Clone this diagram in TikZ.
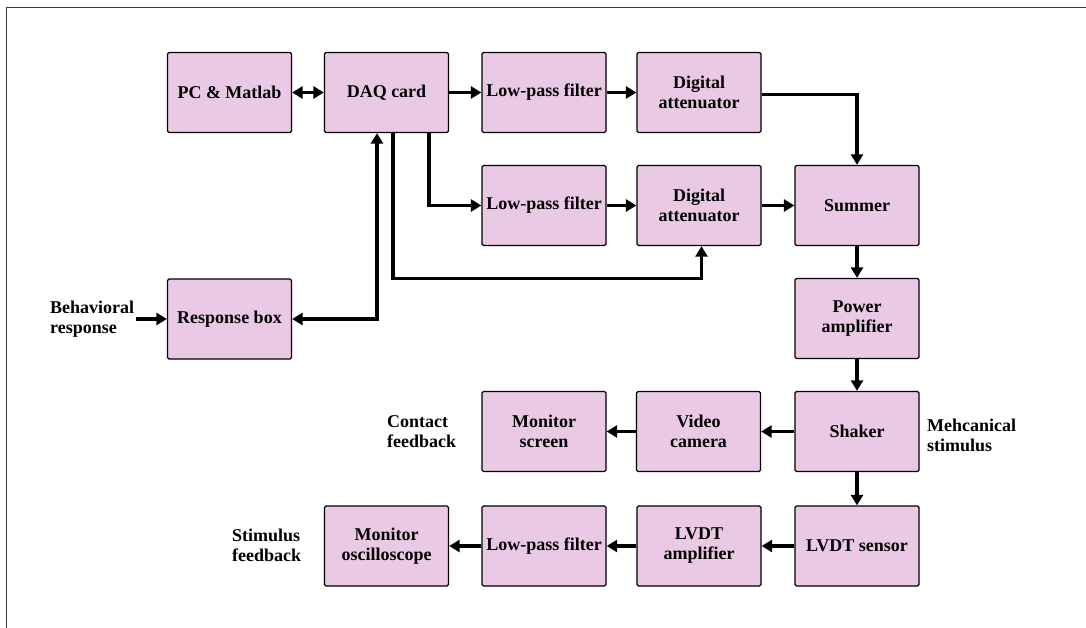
\documentclass[tikz,border=0pt]{standalone}
\usepackage{fontspec}
\setmainfont{Liberation Serif}
\usetikzlibrary{arrows.meta}
\definecolor{boxfill}{HTML}{EAC9E4}
\definecolor{framegray}{HTML}{3A3A3A}
\begin{document}
\begin{tikzpicture}[x=1pt,y=-1pt,
  blk/.style={draw=black, line width=1.3pt, fill=boxfill, rounded corners=1.5pt,
    minimum width=124pt, minimum height=80pt, inner sep=0pt, align=center,
    font=\fontsize{18}{20}\selectfont\bfseries},
  lbl/.style={align=left, inner sep=0pt, font=\fontsize{18}{20}\selectfont\bfseries},
  conn/.style={line width=3.3pt, -{Triangle[length=10.5pt,width=12pt]}},
  dconn/.style={line width=3.3pt, {Triangle[length=10.5pt,width=12pt]}-{Triangle[length=10.5pt,width=12pt]}},
]
\useasboundingbox (0,0) rectangle (1086,628);
\draw[framegray, line width=1pt] (1086,8) -- (6.5,8) -- (6.5,628);

% row 0
\node[blk] (pc)   at (229.5,92.5) {PC \& Matlab};
\node[blk] (daq)  at (386.5,92.5) {DAQ card};
\node[blk] (lpfa) at (544,92.5) {Low-pass filter};
\node[blk] (daa)  at (699,92.5) {Digital\\attenuator};
% row 1
\node[blk] (lpfb) at (544,205.5) {Low-pass filter};
\node[blk] (dab)  at (699,205.5) {Digital\\attenuator};
\node[blk] (sum)  at (857,205.5) {Summer};
% row 2
\node[blk] (resp) at (229.5,319) {Response box};
\node[blk] (pow)  at (857,318.5) {Power\\amplifier};
% row 3
\node[blk] (mon)  at (544,431.5) {Monitor\\screen};
\node[blk] (cam)  at (698.5,431.5) {Video\\camera};
\node[blk] (shk)  at (857,431.5) {Shaker};
% row 4
\node[blk] (osc)  at (386.5,546) {Monitor\\oscilloscope};
\node[blk] (lpfc) at (544,546) {Low-pass filter};
\node[blk] (lamp) at (699,546) {LVDT\\amplifier};
\node[blk] (lvdt) at (857,546) {LVDT sensor};

% labels
\node[lbl, anchor=west] (beh) at (50,319) {Behavioral\\response};
\node[lbl, anchor=west] (cfb) at (387,432) {Contact\\feedback};
\node[lbl, anchor=west] (sfb) at (232,545) {Stimulus\\feedback};
\node[lbl, anchor=west] (mst) at (927,435) {Mehcanical\\stimulus};

% connectors
\draw[dconn] (pc) -- (daq);
\draw[conn] (daq) -- (lpfa);
\draw[conn] (lpfa) -- (daa);
\draw[conn] ([yshift=-2pt]daa.east) -| (sum.north);
\draw[conn] ([xshift=42.5pt]daq.south) |- (lpfb.west);
\draw[conn] (lpfb) -- (dab);
\draw[conn] (dab) -- (sum);
\draw[conn] ([xshift=6.5pt]daq.south) |- ([xshift=2.5pt]dab.south |- resp.north) -- ([xshift=2.5pt]dab.south);
\draw[dconn] (resp.east) -| ([xshift=-9.5pt]daq.south);
\draw[conn] ([xshift=2pt]beh.east |- resp.west) -- (resp.west);
\draw[conn] (sum) -- (pow);
\draw[conn] (pow) -- (shk);
\draw[conn] (shk) -- (cam);
\draw[conn] (cam) -- (mon);
\draw[conn] (shk) -- (lvdt);
\draw[conn] (lvdt) -- (lamp);
\draw[conn] (lamp) -- (lpfc);
\draw[conn] (lpfc) -- (osc);
\end{tikzpicture}
\end{document}
